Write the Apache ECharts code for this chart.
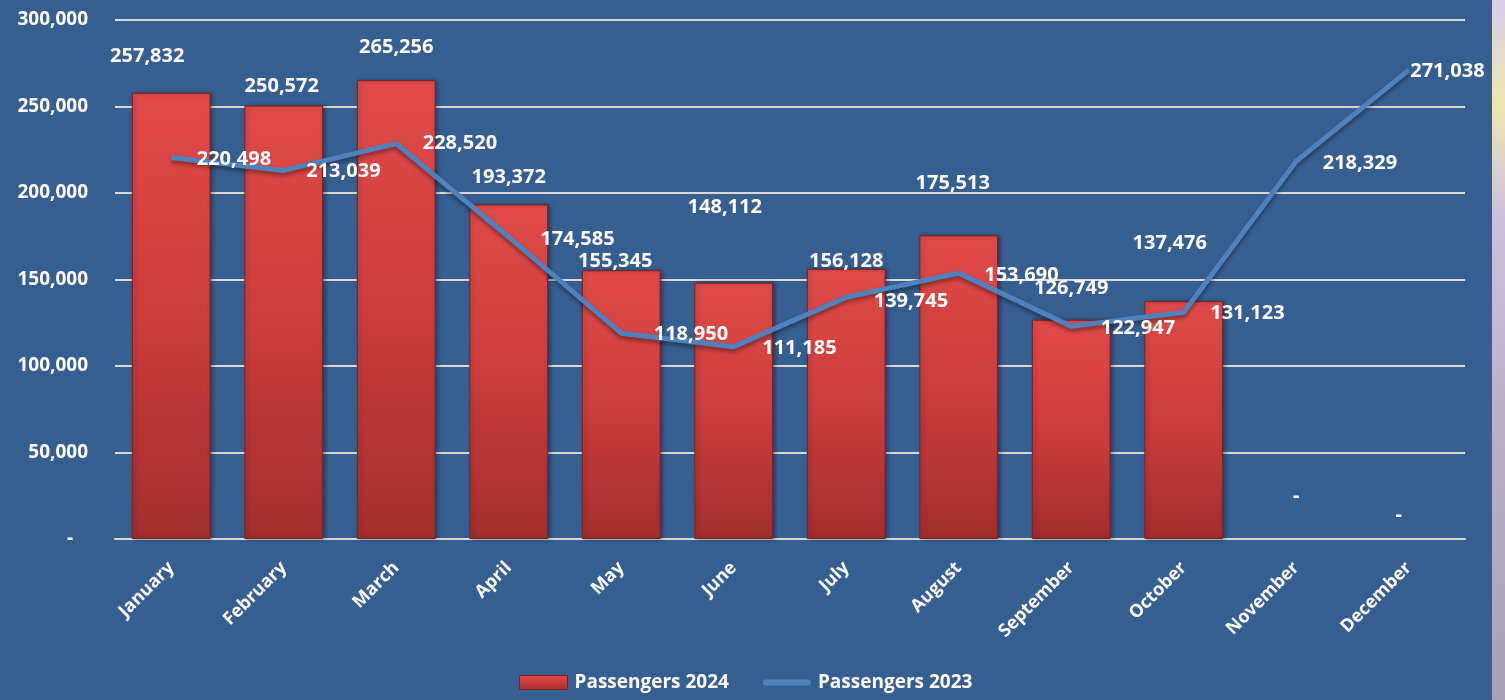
<!DOCTYPE html>
<html>
<head>
<meta charset="utf-8">
<script src="https://cdn.jsdelivr.net/npm/echarts@6/dist/echarts.min.js"></script>
<style>
    html, body { margin: 0; padding: 0; background: #365f91; }
    #Root { width: 1505px; height: 700px; }
</style>
</head>
<body>
<div id="Root"></div>
<script>
// data
let months = ['January', 'February', 'March', 'April', 'May', 'June', 'July', 'August', 'September', 'October', 'November', 'December']
let passengers2024 = [257832, 250572, 265256, 193372, 155345, 148112, 156128, 175513, 126749, 137476, 0, 0]
let passengers2023 = [220498, 213039, 228520, 174585, 118950, 111185, 139745, 153690, 122947, 131123, 218329, 271038]
let yTicks = [0, 50000, 100000, 150000, 200000, 250000, 300000]

// label nudges (Excel labels were moved by hand)
let barLabelShift = [[-24, -22], [-2, -4], [0, -18], [0, -12], [-6, 6], [-9, -60], [0, 7], [-6, -37], [0, -16], [-14, -43], [0, -28], [-10, -9]]
let lineLabelShift = [[20, 2], [17, 1], [21, 0], [26, 2], [27, 1], [23, 2], [22, 4], [20, 2], [24, 2], [21, 1], [21, 2], [-4, 1]]

function fmt(v) {
    return v === 0 ? '-' : v.toLocaleString('en-US')
}

let font = '"Open Sans", "Liberation Sans", sans-serif'
let chart = echarts.init(document.getElementById('Root'))

let barColor = new echarts.graphic.LinearGradient(0, 0, 0, 1, [
    { offset: 0, color: '#e04a48' },
    { offset: 0.5, color: '#cc3d3b' },
    { offset: 1, color: '#a12e2d' }
])

let option = {
    backgroundColor: '#365f91',
    textStyle: { fontFamily: font },
    grid: { left: 115, right: 40, top: 20, bottom: 161 },
    graphic: [{
        type: 'rect',
        shape: { x: 1492, y: 0, width: 13, height: 700 },
        style: {
            fill: new echarts.graphic.LinearGradient(0, 0, 0, 1, [
                { offset: 0, color: '#d8d0e8' },
                { offset: 0.15, color: '#efe6b0' },
                { offset: 0.3, color: '#cfc2dc' },
                { offset: 0.6, color: '#b9b0c8' },
                { offset: 1, color: '#a8a2b8' }
            ])
        },
        silent: true
    }],
    legend: {
        bottom: 3,
        left: 514,
        itemGap: 34,
        itemWidth: 48,
        itemHeight: 14,
        textStyle: { color: '#ffffff', fontWeight: 'bold', fontSize: 19, fontFamily: font, padding: [0, 0, 0, 2] },
        data: [
            { name: 'Passengers 2024', icon: 'rect', itemStyle: { color: barColor, borderColor: '#7d2020', borderWidth: 1 } },
            { name: 'Passengers 2023', icon: 'path://M3,0 L47,0 A3,3 0 0 1 47,6 L3,6 A3,3 0 0 1 3,0 Z', itemStyle: { color: '#4f81bd' } }
        ]
    },
    xAxis: {
        type: 'category',
        data: months,
        axisLine: { lineStyle: { color: '#d9d9d9', width: 2 } },
        axisTick: { show: false },
        axisLabel: {
            rotate: 45,
            color: '#ffffff',
            fontWeight: 'bold',
            fontSize: 18,
            margin: 26,
            interval: 0
        }
    },
    yAxis: {
        type: 'value',
        min: 0,
        max: 300000,
        interval: 50000,
        axisLine: { show: false },
        axisTick: { show: false },
        splitLine: { lineStyle: { color: '#d9d9d9', width: 2 } },
        axisLabel: {
            color: '#ffffff',
            fontWeight: 'bold',
            fontSize: 19,
            margin: 27,
            formatter: function (v) {
                return yTicks.indexOf(v) === 0 ? '-   ' : fmt(v)
            }
        }
    },
    series: [
        {
            name: 'Passengers 2024',
            type: 'bar',
            barWidth: '70%',
            itemStyle: {
                color: barColor,
                borderColor: '#7d2020',
                borderWidth: 1,
                shadowColor: 'rgba(0,0,0,0.35)',
                shadowBlur: 4,
                shadowOffsetX: 2
            },
            data: passengers2024.map(function (v, i) {
                let item = {
                    value: v,
                    label: { offset: barLabelShift[i] }
                }
                // empty months: keep the "-" label but draw no bar
                if (v === 0) item.itemStyle = { color: 'transparent', borderWidth: 0, shadowBlur: 0, shadowOffsetX: 0 }
                return item
            }),
            label: {
                show: true,
                position: 'top',
                color: '#ffffff',
                fontWeight: 'bold',
                fontSize: 20,
                formatter: function (p) { return fmt(p.value) }
            }
        },
        {
            name: 'Passengers 2023',
            type: 'line',
            symbol: 'circle',
            symbolSize: 1,
            lineStyle: {
                color: '#4f81bd',
                width: 5,
                shadowColor: 'rgba(0,0,0,0.4)',
                shadowBlur: 4,
                shadowOffsetY: 3
            },
            itemStyle: { color: '#4f81bd' },
            data: passengers2023.map(function (v, i) {
                return {
                    value: v,
                    label: { offset: lineLabelShift[i] }
                }
            }),
            label: {
                show: true,
                position: 'right',
                distance: 5,
                color: '#ffffff',
                fontWeight: 'bold',
                fontSize: 20,
                formatter: function (p) { return fmt(p.value) }
            },
            z: 3
        }
    ]
}

chart.setOption(option)
</script>
</body>
</html>
